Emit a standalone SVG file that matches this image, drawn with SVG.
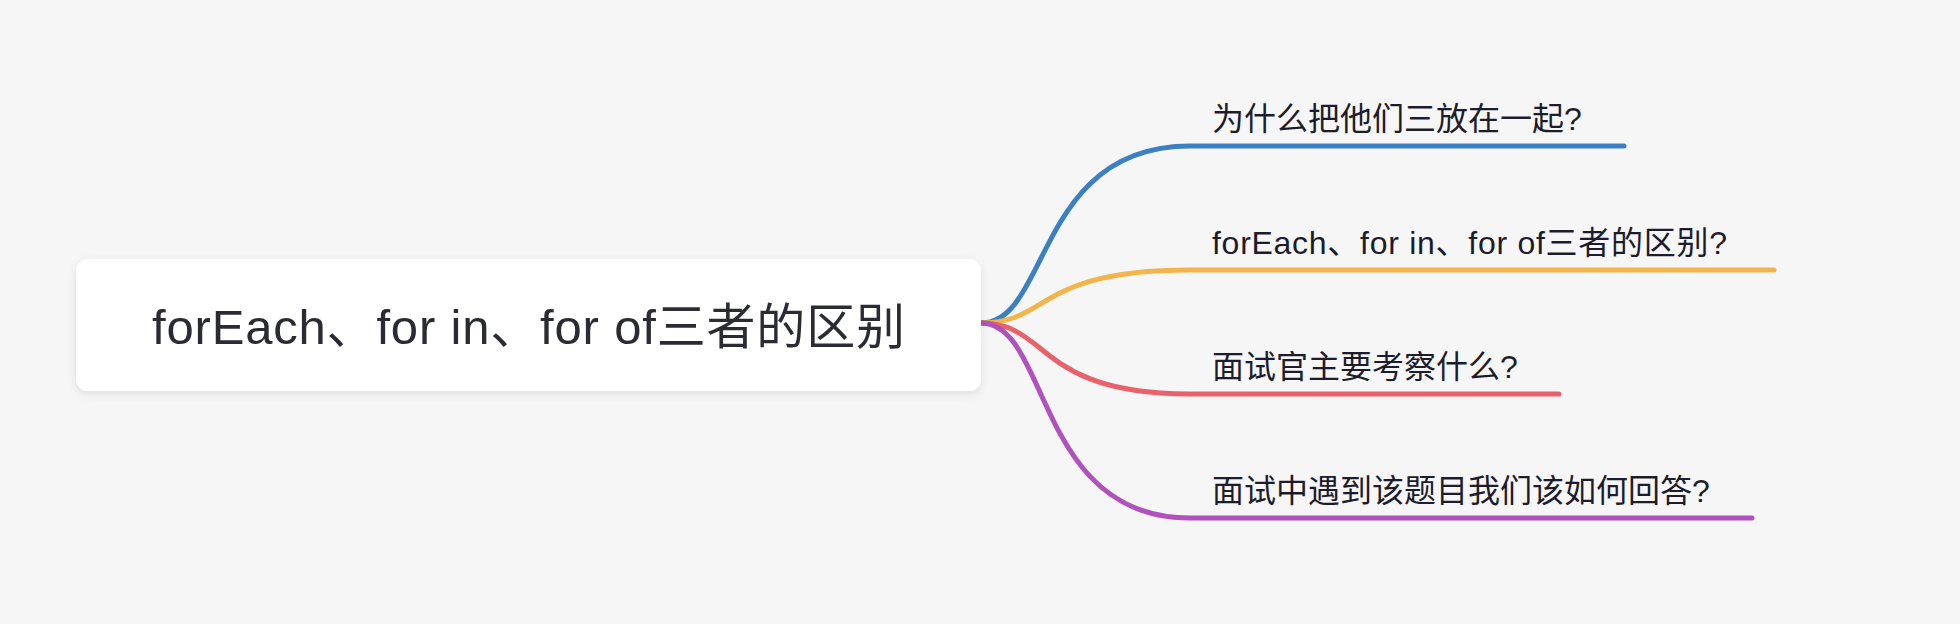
<svg xmlns="http://www.w3.org/2000/svg" width="1960" height="624" viewBox="0 0 1960 624">
  <defs>
    <filter id="shadow" x="-5%" y="-20%" width="110%" height="150%">
      <feDropShadow dx="0" dy="3" stdDeviation="4" flood-color="#000000" flood-opacity="0.10"/>
    </filter>
  </defs>
  <style>
    .root-text { font-family: "Liberation Sans", "Noto Sans CJK SC", sans-serif; font-size: 49px; fill: #2b2c33; }
    .branch-text { font-family: "Liberation Sans", "Noto Sans CJK SC", sans-serif; font-size: 32px; fill: #1c1c2c; }
    .link { fill: none; stroke-width: 5; stroke-linecap: round; stroke-linejoin: round; }
  </style>
  <rect x="0" y="0" width="1960" height="624" fill="#f6f6f6"/>

  <g id="connectors">
    <path class="link" stroke="#3a80c3" d="M981,323 C1050,323 1035,146 1190,146 L1624,146"/>
    <path class="link" stroke="#f2b54b" d="M981,323 C1050,323 1035,270 1190,270 L1774,270"/>
    <path class="link" stroke="#e8616b" d="M981,323 C1050,323 1035,394 1190,394 L1559,394"/>
    <path class="link" stroke="#b052bb" d="M981,323 C1050,323 1035,518 1190,518 L1752,518"/>
  </g>

  <g id="root">
    <rect x="76" y="259" width="905" height="132" rx="12" ry="12" fill="#ffffff" filter="url(#shadow)"/>
    <text class="root-text" x="152" y="344" textLength="753" lengthAdjust="spacing">forEach、for in、for of三者的区别</text>
  </g>

  <g id="branch1">
    <text class="branch-text" x="1212" y="130">为什么把他们三放在一起?</text>
  </g>
  <g id="branch2">
    <text class="branch-text" x="1212" y="254" textLength="515" lengthAdjust="spacing">forEach、for in、for of三者的区别?</text>
  </g>
  <g id="branch3">
    <text class="branch-text" x="1212" y="378">面试官主要考察什么?</text>
  </g>
  <g id="branch4">
    <text class="branch-text" x="1212" y="502">面试中遇到该题目我们该如何回答?</text>
  </g>
</svg>
